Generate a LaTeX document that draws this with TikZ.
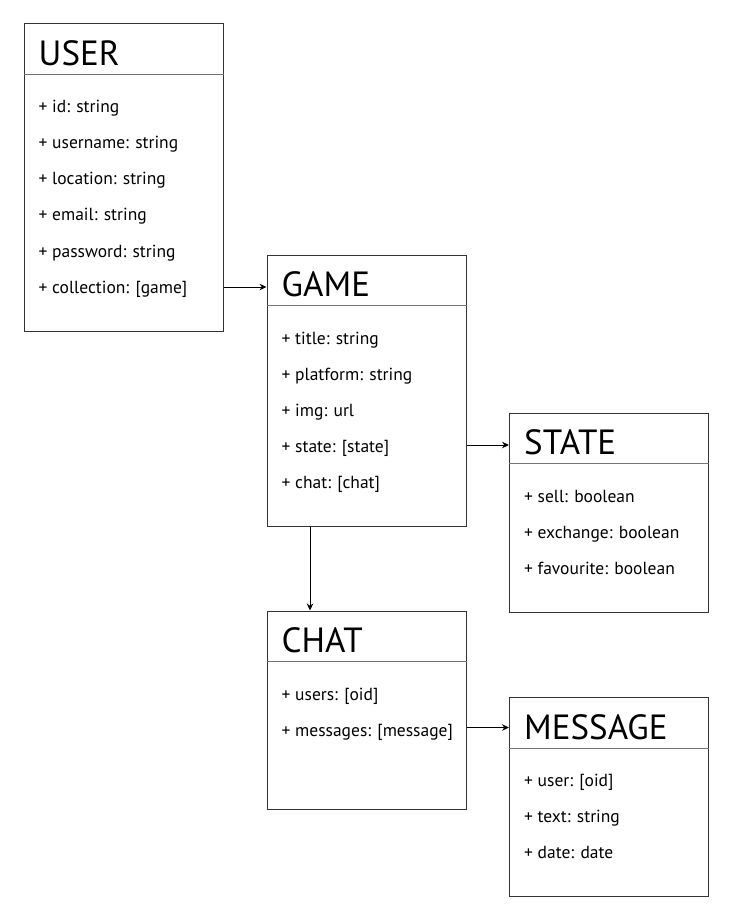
\documentclass[tikz,border=0pt]{standalone}
\usepackage{fontspec}
\setmainfont{PT Sans}
\usetikzlibrary{calc,arrows.meta}
\tikzset{
  classbox/.style={draw=black!80, line width=1pt, fill=white, rectangle, inner sep=0pt, anchor=north west},
  hdr/.style={draw=black!55, line width=1pt},
  ctitle/.style={font=\fontsize{35}{40}\selectfont, anchor=base west, inner sep=0pt, text=black},
  attr/.style={font=\fontsize{17.5}{20}\selectfont, anchor=base west, inner sep=0pt, text=black},
  arr/.style={draw=black, line width=1pt, -{Stealth[length=7pt,width=6.5pt]}}
}
\begin{document}
\begin{tikzpicture}[x=1pt,y=-1pt]
\useasboundingbox (0,0) rectangle (734,917);
% USER
\node[classbox, minimum width=199pt, minimum height=307pt] (user) at (23.5,23.5) {};
\draw[hdr] ($(user.north west)+(0,51)$) -- ($(user.north east)+(0,51)$);
\node[ctitle] (usert) at ($(user.north west)+(15,42)$) {USER};
\foreach \t [count=\i] in {{+ id: string},{+ username: string},{+ location: string},{+ email: string},{+ password: string},{+ collection: [game]}}
  \node[attr] (user\i) at ($(user.north west)+(15,89.5+36*\i-36)$) {\t};
% GAME
\node[classbox, minimum width=199pt, minimum height=271pt] (game) at (266.5,254.5) {};
\draw[hdr] ($(game.north west)+(0,51)$) -- ($(game.north east)+(0,51)$);
\node[ctitle] (gamet) at ($(game.north west)+(15,42)$) {GAME};
\foreach \t [count=\i] in {{+ title: string},{+ platform: string},{+ img: url},{+ state: [state]},{+ chat: [chat]}}
  \node[attr] (game\i) at ($(game.north west)+(15,89.5+36*\i-36)$) {\t};
% STATE
\node[classbox, minimum width=199pt, minimum height=199pt] (state) at (509,412.5) {};
\draw[hdr] ($(state.north west)+(0,51)$) -- ($(state.north east)+(0,51)$);
\node[ctitle] (statet) at ($(state.north west)+(15,42)$) {STATE};
\foreach \t [count=\i] in {{+ sell: boolean},{+ exchange: boolean},{+ favourite: boolean}}
  \node[attr] (state\i) at ($(state.north west)+(15,89.5+36*\i-36)$) {\t};
% CHAT
\node[classbox, minimum width=199pt, minimum height=198pt] (chat) at (266.5,610.5) {};
\draw[hdr] ($(chat.north west)+(0,51)$) -- ($(chat.north east)+(0,51)$);
\node[ctitle] (chatt) at ($(chat.north west)+(15,42)$) {CHAT};
\foreach \t [count=\i] in {{+ users: [oid]},{+ messages: [message]}}
  \node[attr] (chat\i) at ($(chat.north west)+(15,89.5+36*\i-36)$) {\t};
% MESSAGE
\node[classbox, minimum width=199pt, minimum height=198.5pt] (message) at (509,697) {};
\draw[hdr] ($(message.north west)+(0,51)$) -- ($(message.north east)+(0,51)$);
\node[ctitle] (messaget) at ($(message.north west)+(15,42)$) {MESSAGE};
\foreach \t [count=\i] in {{+ user: [oid]},{+ text: string},{+ date: date}}
  \node[attr] (message\i) at ($(message.north west)+(15,89.5+36*\i-36)$) {\t};
% connectors
\coordinate (rowuc) at (0,287);
\coordinate (rowgs) at (0,445);
\coordinate (rowcm) at (0,727.5);
\coordinate (colgc) at (310,0);
\draw[arr] (rowuc -| user.east) -- (rowuc -| game.west);
\draw[arr] (rowgs -| game.east) -- (rowgs -| state.west);
\draw[arr] (colgc |- game.south) -- (colgc |- chat.north);
\draw[arr] (rowcm -| chat.east) -- (rowcm -| message.west);
\end{tikzpicture}
\end{document}
